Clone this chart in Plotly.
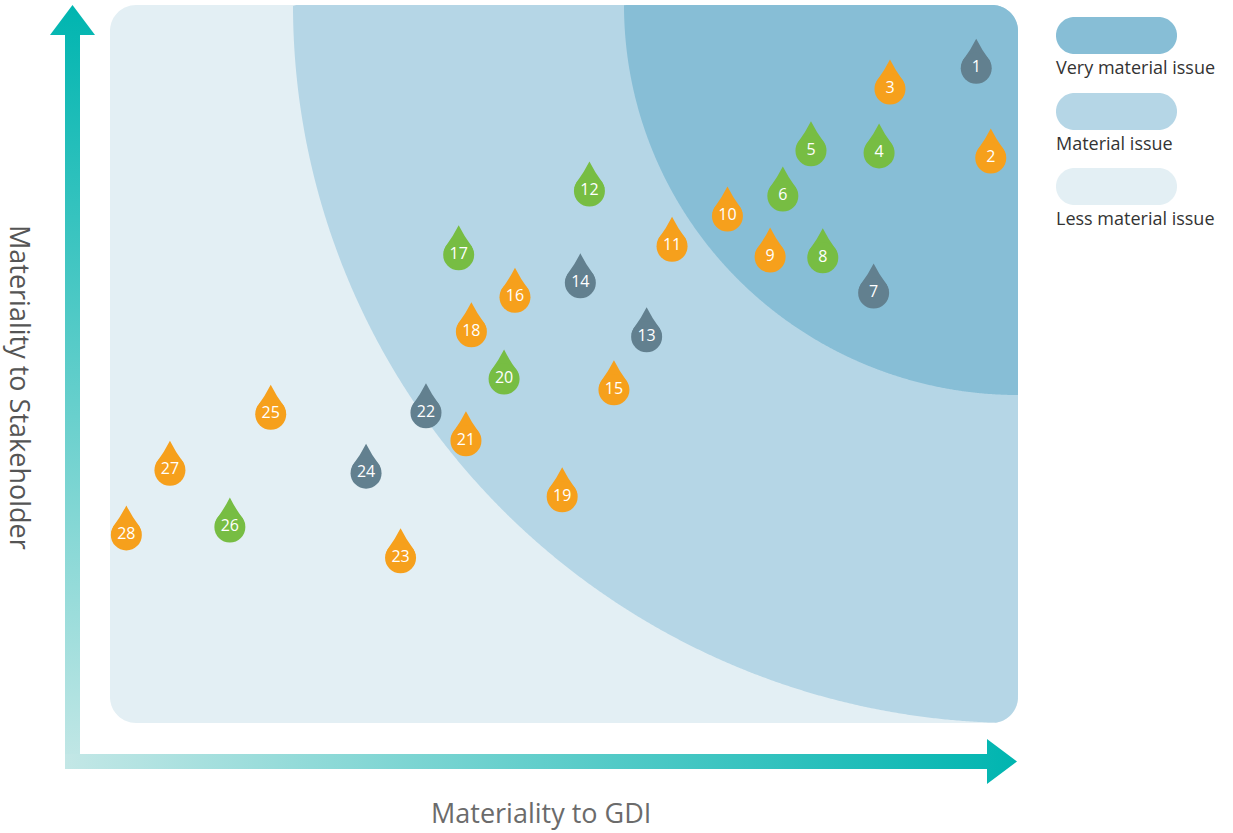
import numpy as np
import plotly.graph_objects as go

W, H = 1233, 833

# ---------------- data ----------------
issue_ids = list(range(1, 29))
materiality_gdi = [9.54, 9.70, 8.59, 8.47, 7.72, 7.41, 8.41, 7.85, 7.27, 6.80,
                   6.19, 5.28, 5.91, 5.18, 5.55, 4.46, 3.84, 3.98, 4.98, 4.34,
                   3.92, 3.48, 3.20, 2.82, 1.77, 1.32, 0.66, 0.18]
materiality_stakeholder = [9.12, 7.87, 8.83, 7.94, 7.97, 7.34, 5.99, 6.48, 6.49, 7.06,
                           6.64, 7.41, 5.38, 6.13, 4.64, 5.93, 6.52, 5.45, 3.15, 4.79,
                           3.93, 4.32, 2.30, 3.48, 4.30, 2.73, 3.52, 2.62]
issue_group = ["slate", "orange", "orange", "green", "green", "green", "slate", "green",
               "orange", "orange", "orange", "green", "slate", "slate", "orange", "orange",
               "green", "orange", "orange", "green", "orange", "slate", "orange", "slate",
               "orange", "green", "orange", "orange"]
group_colors = {"orange": "#F6A01C", "green": "#77BD43", "slate": "#62808F"}

legend_labels = ["Very material issue", "Material issue", "Less material issue"]
zone_colors = ["#87BED6", "#B5D6E6", "#E3EFF4"]
x_title = "Materiality to GDI"
y_title = "Materiality to Stakeholder"

# ---------------- layout geometry (pixels) ----------------
PL, PR, PT, PB, RAD = 110, 1018, 5, 723, 26


def px2paper(x, y):
    return x / W, 1 - y / H


def inside_panel(x, y):
    dx = np.maximum(np.maximum(PL + RAD - x, 0), x - (PR - RAD))
    dy = np.maximum(np.maximum(PT + RAD - y, 0), y - (PB - RAD))
    return (x >= PL) & (x <= PR) & (y >= PT) & (y <= PB) & (dx ** 2 + dy ** 2 <= RAD ** 2)


def region_path(center, rx=None, ry=None, n=1800):
    th = np.linspace(0, 2 * np.pi, n, endpoint=False)
    dxs, dys = np.cos(th), np.sin(th)
    lo = np.zeros(n)
    hi = np.full(n, 2000.0)
    for _ in range(45):
        mid = (lo + hi) / 2
        x = center[0] + mid * dxs
        y = center[1] + mid * dys
        ok = inside_panel(x, y)
        if rx is not None:
            ok &= ((x - PR) / rx) ** 2 + ((y - PT) / ry) ** 2 <= 1
        lo = np.where(ok, mid, lo)
        hi = np.where(ok, hi, mid)
    xs = center[0] + lo * dxs
    ys = center[1] + lo * dys
    pts = [px2paper(a, b) for a, b in zip(xs, ys)]
    return "M " + " L ".join(f"{a:.5f},{b:.5f}" for a, b in pts) + " Z"


def pill_path(x0, x1, y0, y1, n=40):
    r = (y1 - y0) / 2
    cy = (y0 + y1) / 2
    pts = []
    for t in np.linspace(-np.pi / 2, np.pi / 2, n):
        pts.append((x1 - r + r * np.cos(t), cy + r * np.sin(t)))
    for t in np.linspace(np.pi / 2, 3 * np.pi / 2, n):
        pts.append((x0 + r + r * np.cos(t), cy + r * np.sin(t)))
    pp = [px2paper(a, b) for a, b in pts]
    return "M " + " L ".join(f"{a:.5f},{b:.5f}" for a, b in pp) + " Z"


shapes = []
# zones: less / material / very material
shapes.append(dict(type="path", xref="paper", yref="paper", layer="below",
                   path=region_path((564, 364)), fillcolor=zone_colors[2], line=dict(width=0)))
shapes.append(dict(type="path", xref="paper", yref="paper", layer="below",
                   path=region_path((850, 200), 725, 718), fillcolor=zone_colors[1], line=dict(width=0)))
shapes.append(dict(type="path", xref="paper", yref="paper", layer="below",
                   path=region_path((930, 100), 394, 390), fillcolor=zone_colors[0], line=dict(width=0)))

# legend pills
pill_rows = [(17, 54), (93, 130), (168, 205)]
annotations = []
for (y0, y1), col, lab in zip(pill_rows, zone_colors, legend_labels):
    shapes.append(dict(type="path", xref="paper", yref="paper", layer="below",
                       path=pill_path(1056, 1177, y0, y1), fillcolor=col, line=dict(width=0)))
    lx, ly = px2paper(1054, y1 + 13)
    annotations.append(dict(x=lx, y=ly, xref="paper", yref="paper", text=lab, showarrow=False,
                            xanchor="left", yanchor="middle",
                            font=dict(family="Open Sans", size=18, color="#333333")))

# axis titles
ax_, ay_ = px2paper(541, 812)
annotations.append(dict(x=ax_, y=ay_, xref="paper", yref="paper", text=x_title, showarrow=False,
                        xanchor="center", yanchor="middle",
                        font=dict(family="Open Sans", size=27, color="#6b6b6b")))
vx, vy = px2paper(21, 387)
annotations.append(dict(x=vx, y=vy, xref="paper", yref="paper", text=y_title, showarrow=False,
                        textangle=90, xanchor="center", yanchor="middle",
                        font=dict(family="Open Sans", size=27, color="#555555")))

# drop tips
tip_path = "M -15,3 L -13.1,8.3 Q -5.5,18.5 0,29.5 Q 5.5,18.5 13.1,8.3 L 15,3 Z"
for xv, yv, g in zip(materiality_gdi, materiality_stakeholder, issue_group):
    shapes.append(dict(type="path", xref="x", yref="y", xsizemode="pixel", ysizemode="pixel",
                       xanchor=xv, yanchor=yv, path=tip_path, layer="below",
                       fillcolor=group_colors[g], line=dict(width=0)))

fig = go.Figure()

# arrows (decoration, on full-page overlay axes in pixel units)
TEAL, LIGHT = "#00B5B0", "#C3E7E6"
fig.add_trace(go.Scatter(
    x=[65, 65, 50, 72.5, 95, 80, 80, 65], y=[769, 35, 35, 5, 35, 35, 769, 769],
    xaxis="x2", yaxis="y2", mode="lines", line=dict(width=0), fill="toself",
    fillgradient=dict(type="vertical", colorscale=[[0, TEAL], [1, LIGHT]], start=5, stop=769),
    hoverinfo="skip", showlegend=False))
fig.add_trace(go.Scatter(
    x=[65, 987, 987, 1017, 987, 987, 65, 65], y=[754, 754, 739, 761.5, 784, 769, 769, 754],
    xaxis="x2", yaxis="y2", mode="lines", line=dict(width=0), fill="toself",
    fillgradient=dict(type="horizontal", colorscale=[[0, LIGHT], [1, TEAL]], start=65, stop=1017),
    hoverinfo="skip", showlegend=False))

# issues
for g in ["orange", "green", "slate"]:
    idx = [i for i, gg in enumerate(issue_group) if gg == g]
    fig.add_trace(go.Scatter(
        x=[materiality_gdi[i] for i in idx], y=[materiality_stakeholder[i] for i in idx],
        text=[str(issue_ids[i]) for i in idx], mode="markers+text",
        marker=dict(size=31, color=group_colors[g], line=dict(width=0)),
        textposition="middle center",
        textfont=dict(family="Open Sans", size=16, color="white"),
        cliponaxis=False, showlegend=False, xaxis="x", yaxis="y"))

fig.update_layout(
    width=W, height=H, margin=dict(l=0, r=0, t=0, b=0, autoexpand=False),
    paper_bgcolor="white", plot_bgcolor="rgba(0,0,0,0)",
    xaxis=dict(domain=[PL / W, PR / W], range=[0, 10], visible=False, fixedrange=True),
    yaxis=dict(domain=[1 - PB / H, 1 - PT / H], range=[0, 10], visible=False, fixedrange=True),
    xaxis2=dict(domain=[0, 1], range=[0, W], visible=False, anchor="y2"),
    yaxis2=dict(domain=[0, 1], range=[H, 0], visible=False, anchor="x2"),
    shapes=shapes, annotations=annotations, showlegend=False,
)

fig.write_html("out.html")
